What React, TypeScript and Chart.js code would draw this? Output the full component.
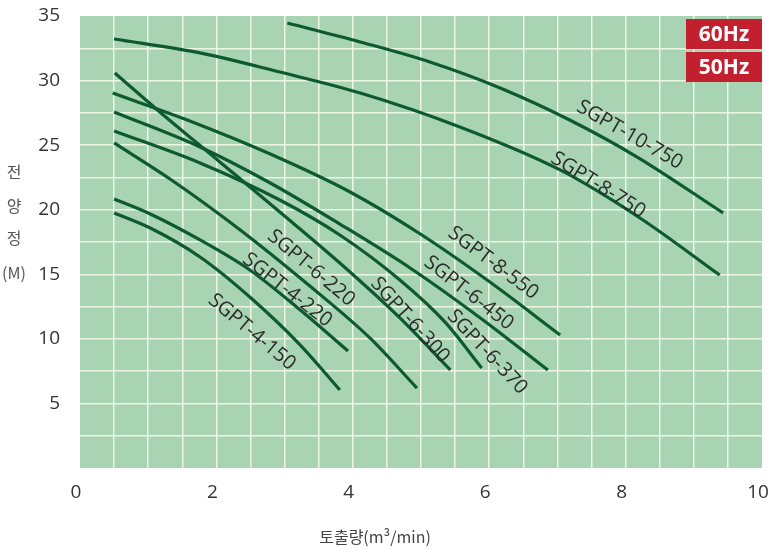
import React, { useEffect, useRef } from "react";
import { Chart, registerables } from "chart.js";

Chart.register(...registerables);

// ---- Data (flow m3/min, head M) ----
const SERIES_NAMES = [
  "SGPT-10-750",
  "SGPT-8-750",
  "SGPT-8-550",
  "SGPT-6-450",
  "SGPT-6-370",
  "SGPT-6-300",
  "SGPT-6-220",
  "SGPT-4-220",
  "SGPT-4-150",
];

const X_10_750 = [3.04, 4.11, 5.13, 6.16, 7.18, 8.17, 9.43];
const Y_10_750 = [34.46, 32.99, 31.44, 29.43, 26.95, 24.08, 19.75];

const X_8_750 = [0.5, 1.76, 2.93, 4.11, 5.57, 7.04, 8.21, 9.38];
const Y_8_750 = [33.22, 32.14, 30.66, 29.04, 26.41, 23.08, 19.36, 14.94];

const X_8_550 = [0.48, 1.61, 2.79, 3.96, 4.99, 6.01, 7.04];
const Y_8_550 = [29.04, 26.87, 24.31, 21.37, 18.12, 14.4, 10.3];

const X_6_450 = [0.5, 1.76, 2.79, 3.81, 4.84, 5.87, 6.86];
const Y_6_450 = [27.57, 24.86, 22.07, 18.89, 15.49, 11.62, 7.59];

const X_6_370 = [0.5, 1.76, 2.93, 3.81, 4.69, 5.35, 5.89];
const Y_6_370 = [26.1, 23.62, 20.75, 18.04, 14.56, 11.31, 7.74];

const X_6_300 = [0.51, 1.17, 2.05, 2.93, 3.81, 4.69, 5.43];
const Y_6_300 = [30.59, 27.57, 23.7, 19.82, 15.87, 11.62, 7.59];

const X_6_220 = [0.5, 1.32, 2.35, 3.37, 4.25, 4.94];
const Y_6_220 = [25.17, 22.38, 18.43, 14.09, 10.07, 6.19];

const X_4_220 = [0.5, 1.03, 1.76, 2.49, 3.23, 3.93];
const Y_4_220 = [20.83, 19.67, 17.66, 15.33, 12.23, 9.06];

const X_4_150 = [0.5, 1.03, 1.76, 2.49, 3.23, 3.81];
const Y_4_150 = [19.75, 18.58, 16.34, 13.24, 9.52, 6.04];

const SERIES_X = [X_10_750, X_8_750, X_8_550, X_6_450, X_6_370, X_6_300, X_6_220, X_4_220, X_4_150];
const SERIES_Y = [Y_10_750, Y_8_750, Y_8_550, Y_6_450, Y_6_370, Y_6_300, Y_6_220, Y_4_220, Y_4_150];

// label anchor (data coords) and rotation (deg)
const LABEL_X = [8.06, 7.6, 6.06, 5.7, 5.97, 4.84, 3.39, 3.04, 2.52];
const LABEL_Y = [25.79, 21.91, 15.87, 13.55, 8.98, 11.46, 15.49, 13.78, 10.53];
const LABEL_ANGLE = [30, 32, 37, 38, 47, 48, 40, 38, 40];

const X_MIN = 0;
const X_MAX = 10;
const Y_MIN = 0;
const Y_MAX = 35;
const X_GRID_STEP = 0.5;
const Y_GRID_STEP = 2.5;
const X_LABEL_EVERY = 2;
const Y_LABEL_EVERY = 5;

const HZ_BADGES = ["60Hz", "50Hz"];
const Y_TITLE = ["전", "양", "정", "(M)"];
const X_TITLE = "토출량(m³/min)";

const FONT = "'Open Sans', 'Noto Sans', sans-serif";
const KFONT = "'Noto Sans CJK KR', 'Noto Sans', sans-serif";

export default function App() {
  const ref = useRef<HTMLCanvasElement | null>(null);

  useEffect(() => {
    const canvas = ref.current;
    if (!canvas) return;

    const decor = {
      id: "decor",
      beforeDraw(chart: any) {
        const { ctx, chartArea } = chart;
        ctx.save();
        ctx.fillStyle = "#a8d4b3";
        ctx.fillRect(chartArea.left, chartArea.top, chartArea.right - chartArea.left, chartArea.bottom - chartArea.top);
        ctx.restore();
      },
      afterDraw(chart: any) {
        const { ctx, chartArea, scales } = chart;
        const xs = scales.x;
        const ys = scales.y;
        ctx.save();
        // curve labels
        ctx.fillStyle = "#2b2b2b";
        ctx.font = `20px ${FONT}`;
        ctx.textAlign = "center";
        ctx.textBaseline = "middle";
        SERIES_NAMES.forEach((name, i) => {
          const px = xs.getPixelForValue(LABEL_X[i]);
          const py = ys.getPixelForValue(LABEL_Y[i]);
          ctx.save();
          ctx.translate(px, py);
          ctx.rotate((LABEL_ANGLE[i] * Math.PI) / 180);
          ctx.fillText(name, 0, 0);
          ctx.restore();
        });
        // Hz badges
        const bw = 76;
        const bh = 30;
        HZ_BADGES.forEach((t, i) => {
          const bx = chartArea.right - bw;
          const by = chartArea.top + 3 + i * (bh + 3);
          ctx.fillStyle = "#c21f2f";
          ctx.fillRect(bx, by, bw, bh);
          ctx.fillStyle = "#ffffff";
          ctx.font = `bold 21px ${FONT}`;
          ctx.textAlign = "center";
          ctx.textBaseline = "middle";
          ctx.fillText(t, bx + bw / 2, by + bh / 2 + 1);
        });
        // y title
        ctx.fillStyle = "#555555";
        ctx.font = `16px ${KFONT}`;
        ctx.textAlign = "center";
        ctx.textBaseline = "middle";
        const yCenters = [172, 206, 238, 273];
        Y_TITLE.forEach((t, i) => {
          ctx.fillText(t, 14, yCenters[i]);
        });
        // x title
        ctx.fillStyle = "#444444";
        ctx.font = `16px ${KFONT}`;
        ctx.fillText(X_TITLE, (chartArea.left + chartArea.right) / 2 - 46, 537);
        ctx.restore();
      },
    };

    const datasets = SERIES_NAMES.map((name, i) => ({
      label: name,
      data: SERIES_X[i].map((x, j) => ({ x, y: SERIES_Y[i][j] })),
      borderColor: "#0d5a32",
      borderWidth: 3.2,
      pointRadius: 0,
      fill: false,
      cubicInterpolationMode: "monotone" as const,
    }));

    const gridColor = (max: number) => (c: any) => {
      const v = c.tick ? c.tick.value : 0;
      if (v <= 0 || v >= max) return "rgba(0,0,0,0)";
      return "rgba(244,249,232,0.9)";
    };

    const chart = new Chart(canvas, {
      type: "line",
      data: { datasets },
      plugins: [decor],
      options: {
        responsive: false,
        animation: false,
        layout: { padding: { top: 16, right: 12, left: 0, bottom: 0 } },
        plugins: {
          legend: { display: false },
          tooltip: { enabled: false },
        },
        scales: {
          x: {
            type: "linear",
            min: X_MIN,
            max: X_MAX,
            border: { display: false },
            grid: { color: gridColor(X_MAX), lineWidth: 1.5, drawTicks: false },
            afterFit: (s: any) => {
              s.height = 81;
              s.paddingLeft = 0;
              s.paddingRight = 0;
            },
            ticks: {
              stepSize: X_GRID_STEP,
              autoSkip: false,
              maxRotation: 0,
              padding: 13,
              labelOffset: -4,
              color: "#333333",
              font: { family: FONT, size: 19 },
              callback: (v: any) => (Number(v) % X_LABEL_EVERY === 0 ? String(v) : ""),
            },
          },
          y: {
            type: "linear",
            min: Y_MIN,
            max: Y_MAX,
            border: { display: false },
            grid: { color: gridColor(Y_MAX), lineWidth: 1.5, drawTicks: false },
            afterFit: (s: any) => {
              s.width = 80;
              s.paddingTop = 0;
              s.paddingBottom = 0;
            },
            ticks: {
              stepSize: Y_GRID_STEP,
              autoSkip: false,
              padding: 20,
              color: "#333333",
              font: { family: FONT, size: 19 },
              callback: (v: any) => {
                const n = Number(v);
                return n > 0 && n % Y_LABEL_EVERY === 0 ? String(n) : "";
              },
            },
          },
        },
      },
    });

    return () => chart.destroy();
  }, []);

  return (
    <div style={{ position: "absolute", left: 0, top: 0, width: 774, height: 549, background: "#ffffff" }}>
      <canvas ref={ref} width={774} height={549} style={{ width: 774, height: 549, display: "block" }} />
    </div>
  );
}
